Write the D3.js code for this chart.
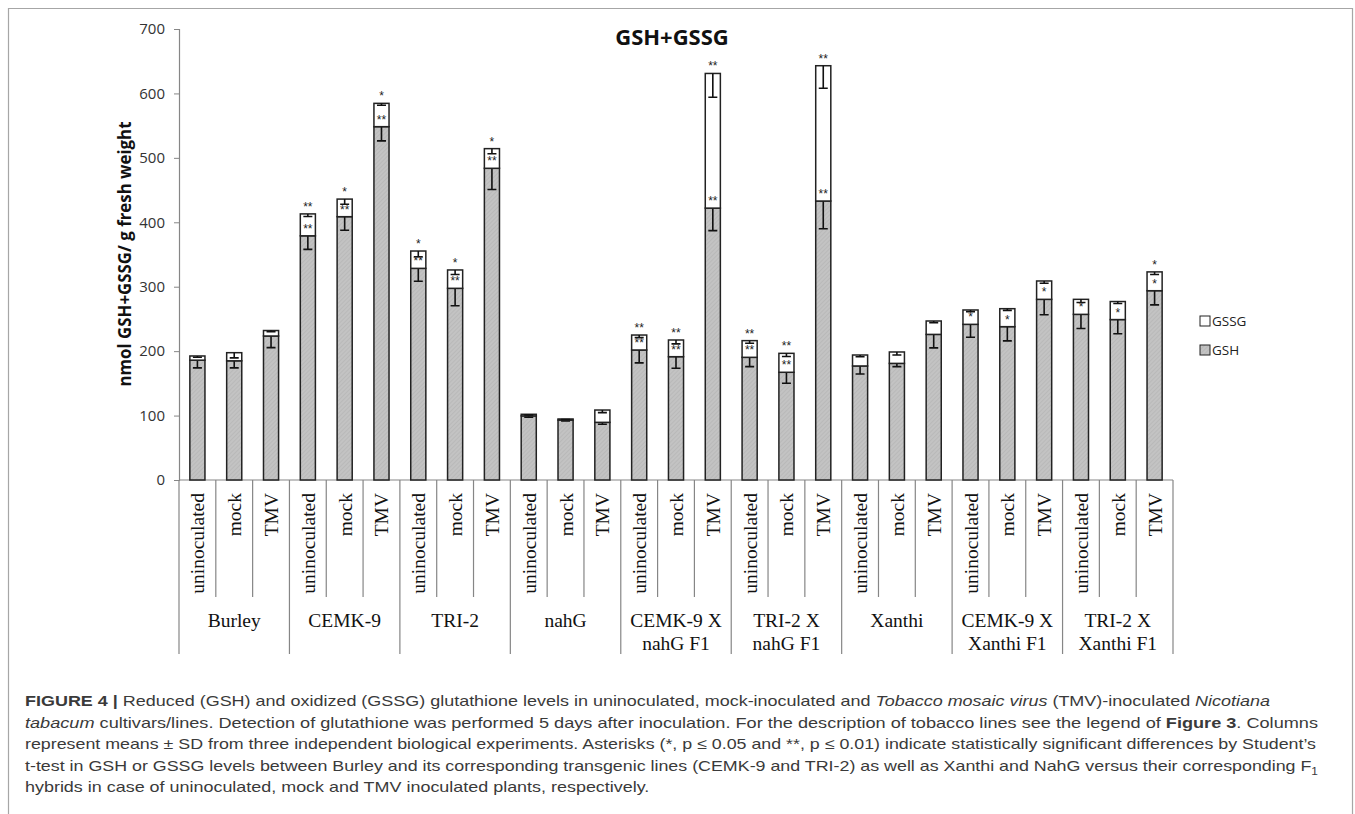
<!DOCTYPE html>
<html>
<head>
<meta charset="utf-8">
<script src="https://cdn.jsdelivr.net/npm/d3@7"></script>
<style>
  body { margin: 0; background: #fff; }
  svg { display: block; }
</style>
</head>
<body>
<svg id="chart" width="1355" height="814"></svg>
<script>
// groups (two-line labels split on |) and treatments
let groups = ["Burley", "CEMK-9", "TRI-2", "nahG", "CEMK-9 X|nahG F1", "TRI-2 X|nahG F1", "Xanthi", "CEMK-9 X|Xanthi F1", "TRI-2 X|Xanthi F1"];
let treatments = ["uninoculated", "mock", "TMV"];

// nmol / g fresh weight, one value per bar (group x treatment)
let gsh = [186, 185, 223.5, 379, 408.7, 548.4, 328.5, 297.5, 483.8, 99.5, 93, 89.5, 201.8, 191.4, 422, 190.4, 167.2, 433, 177, 181, 226, 241.6, 238, 280.4, 257.1, 249, 293.8];
let gssg = [6.5, 12.6, 8.5, 34, 27.3, 36.2, 26.9, 28.5, 30.5, 2.5, 1.7, 19.1, 23.2, 25.9, 209, 25.9, 29.4, 210, 17, 17.7, 20.8, 22.3, 27.9, 28.5, 23.3, 28, 29.2];
let gshSD = [12, 11, 18, 21, 21, 22, 20, 27, 33, 2, 1.5, 3, 20, 18, 35, 14.5, 17, 43, 12.4, 5, 21, 20, 22, 24, 22, 22, 22];
let gssgSD = [2, 8, 2, 4, 8, 3, 9, 7, 8, 1, 1, 4, 4, 6, 37, 4, 5, 35, 2.6, 4.7, 2.6, 2.6, 2.6, 3.6, 5, 3, 4];
let gshSig = ["", "", "", "**", "**", "**", "**", "**", "**", "", "", "", "**", "**", "**", "**", "**", "**", "", "", "", "*", "*", "*", "*", "*", "*"];
let gssgSig = ["", "", "", "**", "*", "*", "*", "*", "*", "", "", "", "**", "**", "**", "**", "**", "**", "", "", "", "", "", "", "", "", "*"];
let yTicks = [0, 100, 200, 300, 400, 500, 600, 700];
let legendItems = ["GSSG", "GSH"];

let caption = [
  [["FIGURE 4 | ", "b"], ["Reduced (GSH) and oxidized (GSSG) glutathione levels in uninoculated, mock-inoculated and ", ""], ["Tobacco mosaic virus", "i"], [" (TMV)-inoculated ", ""], ["Nicotiana", "i"]],
  [["tabacum", "i"], [" cultivars/lines. Detection of glutathione was performed 5 days after inoculation. For the description of tobacco lines see the legend of ", ""], ["Figure 3", "b"], [". Columns", ""]],
  [["represent means \u00b1 SD from three independent biological experiments. Asterisks (*, p \u2264 0.05 and **, p \u2264 0.01) indicate statistically significant differences by Student\u2019s", ""]],
  [["t-test in GSH or GSSG levels between Burley and its corresponding transgenic lines (CEMK-9 and TRI-2) as well as Xanthi and NahG versus their corresponding F", ""], ["1", "sub"]],
  [["hybrids in case of uninoculated, mock and TMV inoculated plants, respectively.", ""]]
];
// justified widths of the full caption lines (last line is left ragged)
let captionWidths = [1245, 1293, 1291, 1293];

let svg = d3.select("#chart");

// frame around figure
svg.append("path")
  .attr("d", "M8.5,814 V8.5 H1352.5 V814")
  .attr("fill", "none")
  .attr("stroke", "#a6a6a6")
  .attr("stroke-width", 1.2);

let defs = svg.append("defs");
let pat = defs.append("pattern")
  .attr("id", "hatch")
  .attr("patternUnits", "userSpaceOnUse")
  .attr("width", 3).attr("height", 3)
  .attr("patternTransform", "rotate(45)");
pat.append("rect").attr("width", 3).attr("height", 3).attr("fill", "#c3c3c3");
pat.append("line").attr("x1", 0).attr("y1", 0).attr("x2", 0).attr("y2", 3)
  .attr("stroke", "#afafaf").attr("stroke-width", 1);

let plotLeft = 179, plotRight = 1173, plotTop = 29, plotBase = 480;

let bars = d3.range(gsh.length);
let x = d3.scaleBand().domain(bars).range([plotLeft, plotRight]).paddingInner(0.59).paddingOuter(0.295);
let y = d3.scaleLinear().domain([0, 700]).range([plotBase, plotTop]);
let step = x.step();

let g = svg.append("g");

// y axis
let yAxis = d3.axisLeft(y).tickValues(yTicks).tickSize(5).tickPadding(9);
let ya = g.append("g").attr("transform", `translate(${plotLeft},0)`).call(yAxis);
ya.select(".domain").attr("stroke", "#868686").attr("stroke-width", 1.2);
ya.selectAll(".tick line").attr("stroke", "#868686");
ya.selectAll(".tick text")
  .attr("font-family", "Open Sans, Liberation Sans, sans-serif")
  .attr("font-size", 15)
  .attr("fill", "#333");

g.append("text")
  .attr("transform", "translate(131,254) rotate(-90)")
  .attr("text-anchor", "middle")
  .attr("font-family", "Open Sans, Liberation Sans, sans-serif")
  .attr("font-weight", "bold")
  .attr("font-size", 17)
  .attr("textLength", 265)
  .attr("lengthAdjust", "spacingAndGlyphs")
  .attr("fill", "#111")
  .text("nmol GSH+GSSG/ g fresh weight");

g.append("text")
  .attr("x", 672).attr("y", 45)
  .attr("text-anchor", "middle")
  .attr("font-family", "Open Sans, Liberation Sans, sans-serif")
  .attr("font-weight", "bold")
  .attr("font-size", 22)
  .attr("fill", "#111")
  .text("GSH+GSSG");

// category table below the axis
g.append("line")
  .attr("x1", plotLeft).attr("x2", plotRight)
  .attr("y1", plotBase).attr("y2", plotBase)
  .attr("stroke", "#868686").attr("stroke-width", 1.2);

let bounds = d3.range(gsh.length + 1);
g.selectAll("line.sep").data(bounds).enter().append("line")
  .attr("class", "sep")
  .attr("x1", d => plotLeft + d * step).attr("x2", d => plotLeft + d * step)
  .attr("y1", plotBase)
  .attr("y2", d => d % 3 === 0 ? 654 : 597)
  .attr("stroke", "#868686").attr("stroke-width", 1.2);

g.selectAll("text.treat").data(bars).enter().append("text")
  .attr("class", "treat")
  .attr("transform", d => `translate(${x(d) + x.bandwidth() / 2 + 7},493) rotate(-90)`)
  .attr("text-anchor", "end")
  .attr("font-family", "Liberation Serif, Times New Roman, serif")
  .attr("font-size", 19.5)
  .attr("fill", "#111")
  .text(d => treatments[d % 3]);

let gl = g.selectAll("text.grp").data(groups).enter().append("text")
  .attr("class", "grp")
  .attr("text-anchor", "middle")
  .attr("font-family", "Liberation Serif, Times New Roman, serif")
  .attr("font-size", 19.5)
  .attr("fill", "#111");
gl.selectAll("tspan").data((d, i) => d.split("|").map(s => ({ s: s, i: i })))
  .enter().append("tspan")
  .attr("x", d => plotLeft + (d.i * 3 + 1.5) * step)
  .attr("y", (d, j) => 627 + j * 23)
  .text(d => d.s);

// bars
let bg = g.append("g");
bg.selectAll("rect.gsh").data(bars).enter().append("rect")
  .attr("class", "gsh")
  .attr("x", d => x(d))
  .attr("width", x.bandwidth())
  .attr("y", d => y(gsh[d]))
  .attr("height", d => y(0) - y(gsh[d]))
  .attr("fill", "url(#hatch)")
  .attr("stroke", "#222").attr("stroke-width", 1.5);

let errPath = (cx, y0, y1) => `M${cx},${y0}V${y1}M${cx - 4.5},${y1}H${cx + 4.5}`;

bg.selectAll("path.gshErr").data(bars).enter().append("path")
  .attr("class", "gshErr")
  .attr("d", d => errPath(x(d) + x.bandwidth() / 2, y(gsh[d]), y(gsh[d] - gshSD[d])))
  .attr("fill", "none").attr("stroke", "#111").attr("stroke-width", 1.6);

bg.selectAll("rect.gssg").data(bars).enter().append("rect")
  .attr("class", "gssg")
  .attr("x", d => x(d))
  .attr("width", x.bandwidth())
  .attr("y", d => y(gsh[d] + gssg[d]))
  .attr("height", d => y(gsh[d]) - y(gsh[d] + gssg[d]))
  .attr("fill", "#fff")
  .attr("stroke", "#222").attr("stroke-width", 1.5);

bg.selectAll("path.gssgErr").data(bars).enter().append("path")
  .attr("class", "gssgErr")
  .attr("d", d => errPath(x(d) + x.bandwidth() / 2, y(gsh[d] + gssg[d]), y(gsh[d] + gssg[d] - gssgSD[d])))
  .attr("fill", "none").attr("stroke", "#111").attr("stroke-width", 1.6);

// significance marks
bg.selectAll("text.sigH").data(bars.filter(d => gshSig[d])).enter().append("text")
  .attr("class", "sigH")
  .attr("x", d => x(d) + x.bandwidth() / 2)
  .attr("y", d => y(gsh[d]) - 3)
  .attr("text-anchor", "middle")
  .attr("font-family", "Liberation Sans, sans-serif")
  .attr("font-size", 12)
  .attr("fill", "#222")
  .text(d => gshSig[d]);

bg.selectAll("text.sigS").data(bars.filter(d => gssgSig[d])).enter().append("text")
  .attr("class", "sigS")
  .attr("x", d => x(d) + x.bandwidth() / 2)
  .attr("y", d => y(gsh[d] + gssg[d]) - 3)
  .attr("text-anchor", "middle")
  .attr("font-family", "Liberation Sans, sans-serif")
  .attr("font-size", 12)
  .attr("fill", "#222")
  .text(d => gssgSig[d]);

// legend
let lg = g.selectAll("g.leg").data(legendItems).enter().append("g")
  .attr("class", "leg")
  .attr("transform", (d, i) => `translate(1200,${316 + i * 29})`);
lg.append("rect")
  .attr("width", 10).attr("height", 10)
  .attr("fill", d => d === "GSH" ? "url(#hatch)" : "#fff")
  .attr("stroke", "#222").attr("stroke-width", 1);
lg.append("text")
  .attr("x", 12).attr("y", 10)
  .attr("font-family", "Open Sans, Liberation Sans, sans-serif")
  .attr("font-size", 13.5)
  .attr("fill", "#222")
  .text(d => d);

// caption
let cap = svg.append("g")
  .attr("font-family", "Liberation Sans, Arial, sans-serif")
  .attr("font-size", 15)
  .attr("fill", "#3a3a3a");
let capTexts = caption.map((line, i) => {
  let t = cap.append("text")
    .attr("x", 25).attr("y", 706 + i * 21.5);
  line.forEach(seg => {
    let ts = t.append("tspan").text(seg[0]);
    if (seg[1] === "b") ts.attr("font-weight", "bold");
    if (seg[1] === "i") ts.attr("font-style", "italic");
    if (seg[1] === "sub") ts.attr("font-size", 10).attr("dy", 4);
  });
  return t;
});
// stretch full lines to their width, last line uses the same average scale
let ratios = captionWidths.map((w, i) => w / capTexts[i].node().getComputedTextLength());
let meanRatio = d3.mean(ratios);
capTexts.forEach((t, i) => {
  let w = i < captionWidths.length ? captionWidths[i] : t.node().getComputedTextLength() * meanRatio;
  t.attr("textLength", w).attr("lengthAdjust", "spacingAndGlyphs");
});
</script>
</body>
</html>
